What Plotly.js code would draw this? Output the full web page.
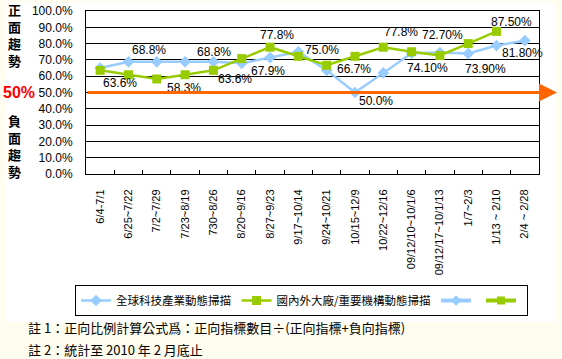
<!DOCTYPE html>
<html>
<head>
<meta charset="utf-8">
<script src="https://cdn.plot.ly/plotly-3.0.1.min.js"></script>
<style>html,body{margin:0;padding:0;background:#FFFCF0;}</style>
</head>
<body>
<div id="chart" style="width:562px;height:359px;"></div>
<script>
// ---- data ----
const categories = ["6/4-7/1", "6/25~7/22", "7/2~7/29", "7/23~8/19", "730~8/26", "8/20~9/16", "8/27~9/23", "9/17~10/14", "9/24~10/21", "10/15~12/9", "10/22~12/16", "09/12/10~10/1/6", "09/12/17~10/1/13", "1/7~2/3", "1/13 ~ 2/10", "2/4 ~ 2/28"];
const seriesNames = ["全球科技產業動態掃描", "國內外大廠/重要機構動態掃描"];
const globalTech = [0.650, 0.688, 0.688, 0.688, 0.688, 0.679, 0.714, 0.750, 0.636, 0.500, 0.620, 0.741, 0.745, 0.739, 0.788, 0.818];
const domesticInst = [0.636, 0.609, 0.583, 0.609, 0.636, 0.708, 0.778, 0.722, 0.667, 0.722, 0.778, 0.750, 0.727, 0.800, 0.875];
const globalTechLabels = [null, "68.8%", null, null, "68.8%", "67.9%", null, "75.0%", null, "50.0%", null, "74.10%", null, "73.90%", null, "81.80%"];
const domesticLabels = ["63.6%", null, "58.3%", null, "63.6%", null, "77.8%", null, "66.7%", null, "77.8%", null, "72.70%", null, "87.50%"];
const yTickVals = [0, 0.1, 0.2, 0.3, 0.4, 0.5, 0.6, 0.7, 0.8, 0.9, 1.0];
const threshold = 0.5;
const topTitle = "正<br>面<br>趨<br>勢";
const bottomTitle = "負<br>面<br>趨<br>勢";
const thresholdText = "50%";
const notes = ["註 1：正向比例計算公式爲：正向指標數目÷(正向指標+負向指標)", "註 2：統計至 2010 年 2 月底止"];

// ---- styles / label offsets (pixels: [dx, dy down]) ----
const blueColor = "#99CCFF", greenColor = "#99CC00";
const blueOffsets = [null, [21,-12], null, null, [1,-10], [26,8], null, [24,-2], null, [21,8], null, [16,15], null, [17,15], null, [-2,12]];
const greenOffsets = [[20,13], null, [27,9], null, [22,9], null, [7,-12], null, [27,4], null, [18,-15], null, [3,-21], null, [15,-9]];

const W = 562, H = 359, L = 86, R = 23, T = 11, B = 185;
const pw = W - L - R, ph = H - T - B;
const px = v => (v - L) / pw;
const py = v => (H - B - v) / ph;

const font = "Liberation Sans, Noto Sans CJK TC, sans-serif";
const cjk = "Noto Sans CJK TC, Liberation Sans, sans-serif";

const traces = [
  {x: categories, y: globalTech, name: seriesNames[0], type: "scatter", mode: "lines+markers",
   line: {color: blueColor, width: 2.5}, marker: {symbol: "diamond", size: 9, color: blueColor}},
  {x: categories.slice(0, domesticInst.length), y: domesticInst, name: seriesNames[1], type: "scatter", mode: "lines+markers",
   line: {color: greenColor, width: 2.5}, marker: {symbol: "square", size: 9, color: greenColor}},
  {x: [categories[0]], y: [null], name: "", type: "scatter", mode: "lines+markers",
   line: {color: blueColor, width: 4}, marker: {symbol: "diamond", size: 8, color: blueColor}},
  {x: [categories[0]], y: [null], name: "", type: "scatter", mode: "lines+markers",
   line: {color: greenColor, width: 4}, marker: {symbol: "square", size: 8, color: greenColor}}
];

const annotations = [];
function addLabels(vals, labels, offs) {
  labels.forEach((t, i) => {
    if (t === null) return;
    annotations.push({x: categories[i], y: vals[i], xref: "x", yref: "y", text: t, showarrow: false,
      xanchor: "center", yanchor: "middle", xshift: offs[i][0], yshift: -offs[i][1],
      font: {family: font, size: 12, color: "#000"}});
  });
}
addLabels(globalTech, globalTechLabels, blueOffsets);
addLabels(domesticInst, domesticLabels, greenOffsets);

// orange 50% arrow
annotations.push({x: px(557), y: threshold, xref: "paper", yref: "y", ax: -(557 - L), ay: 0, axref: "pixel", ayref: "pixel",
  text: "", showarrow: true, arrowhead: 2, arrowsize: 1.2, arrowwidth: 3, arrowcolor: "#FF6600"});
annotations.push({x: px(19), y: threshold, xref: "paper", yref: "y", text: thresholdText, showarrow: false,
  xanchor: "center", yanchor: "middle", font: {family: font, size: 16, color: "#FF0000", weight: "bold"}});

// vertical side titles
annotations.push({x: px(14), y: py(35), xref: "paper", yref: "paper", text: topTitle, showarrow: false,
  xanchor: "center", yanchor: "middle", align: "center", font: {family: cjk, size: 13, color: "#000", weight: "bold"}});
annotations.push({x: px(14), y: py(146), xref: "paper", yref: "paper", text: bottomTitle, showarrow: false,
  xanchor: "center", yanchor: "middle", align: "center", font: {family: cjk, size: 13, color: "#000", weight: "bold"}});

// notes
const noteY = [327, 349];
notes.forEach((t, i) => annotations.push({x: px(26), y: py(noteY[i]), xref: "paper", yref: "paper", text: t, showarrow: false,
  xanchor: "left", yanchor: "middle", font: {family: cjk, size: 13, color: "#000"}}));

const layout = {
  width: W, height: H,
  margin: {l: L, r: R, t: T, b: B, pad: 0},
  paper_bgcolor: "#FFFCF0", plot_bgcolor: "#FFFFFF",
  font: {family: font, size: 12, color: "#000"},
  showlegend: true,
  legend: {orientation: "h", x: px(75), y: py(285), xanchor: "left", yanchor: "top",
    bgcolor: "#FFFFFF", bordercolor: "#000", borderwidth: 1, font: {family: cjk, size: 11.5, color: "#000"},
    itemwidth: 30, tracegroupgap: 0},
  xaxis: {type: "category", range: [-0.5, categories.length - 0.5], tickangle: -90, tickson: "boundaries",
    ticks: "inside", ticklen: 4, tickcolor: "#000", showgrid: false, showline: true, linecolor: "#000", linewidth: 1,
    mirror: true, tickfont: {family: font, size: 11, color: "#000"}, ticklabelstandoff: 10, fixedrange: true},
  yaxis: {range: [0, 1], tickvals: yTickVals, tickformat: ".1%", showgrid: true, gridcolor: "#000", gridwidth: 1,
    showline: true, linecolor: "#000", linewidth: 1, mirror: true, ticks: "", zeroline: false,
    tickfont: {family: font, size: 12, color: "#000"}, ticklabelstandoff: 10, fixedrange: true},
  shapes: [{type: "rect", xref: "paper", yref: "paper", x0: px(5), x1: px(555), y0: py(322), y1: py(3),
    fillcolor: "#FFFFFF", line: {width: 0}, layer: "below"}],
  annotations: annotations
};

Plotly.newPlot("chart", traces, layout, {displayModeBar: false, staticPlot: true});
</script>
</body>
</html>
